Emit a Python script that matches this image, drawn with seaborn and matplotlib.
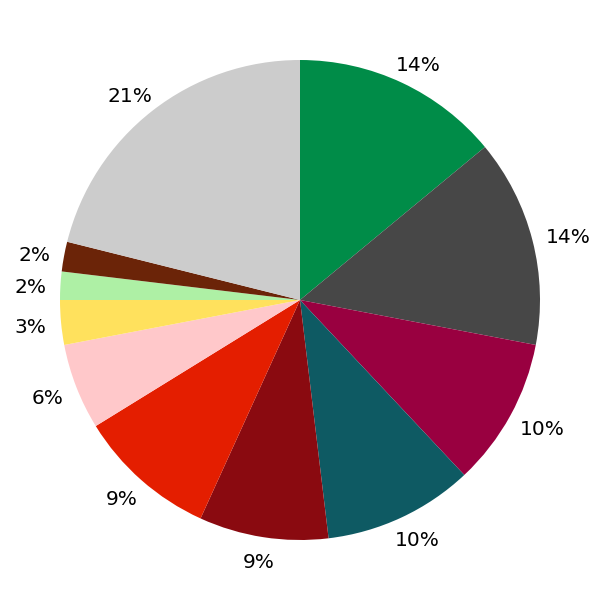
import matplotlib
matplotlib.use('Agg')
import matplotlib.pyplot as plt
import seaborn as sns
import numpy as np

sns.set_theme(style='white')
plt.rcParams['font.family'] = ['DejaVu Sans']

# slice shares in percent, clockwise from the top
values = [14.0, 14.0, 10.0, 10.1, 8.7, 9.4, 5.8, 3.0, 1.9, 2.0, 21.1]
colors = ['#008C48', '#474747', '#990040', '#0E5A63', '#8A0A10', '#E41E00',
          '#FFC8CA', '#FFE15D', '#AEF0A5', '#6B2408', '#CCCCCC']

fig = plt.figure(figsize=(6, 6), dpi=100)
ax = fig.add_axes([0, 0, 1, 1])
wedges, texts, autotexts = ax.pie(values, colors=colors, startangle=90, counterclock=False,
                                  autopct='%1.0f%%', pctdistance=1.13,
                                  textprops=dict(color='black', fontsize=14.5),
                                  wedgeprops=dict(linewidth=0))
ax.set_xlim(-1.25, 1.25)
ax.set_ylim(-1.25, 1.25)
ax.set_aspect('equal')
ax.axis('off')

# push labels out so their box sits just outside the pie edge
fig.canvas.draw()
renderer = fig.canvas.get_renderer()
px = 2.5 / 600  # data units per pixel
for w, t in zip(wedges, autotexts):
    ang = np.deg2rad((w.theta1 + w.theta2) / 2)
    bb = t.get_window_extent(renderer)
    hw = bb.width / 2 * px
    hh = 8 * px
    base = 1.06
    x = (base + hw) * np.cos(ang)
    y = (base + hh) * np.sin(ang) - 3 * px
    t.set_position((x, y))

fig.savefig('out.png', dpi=100)
